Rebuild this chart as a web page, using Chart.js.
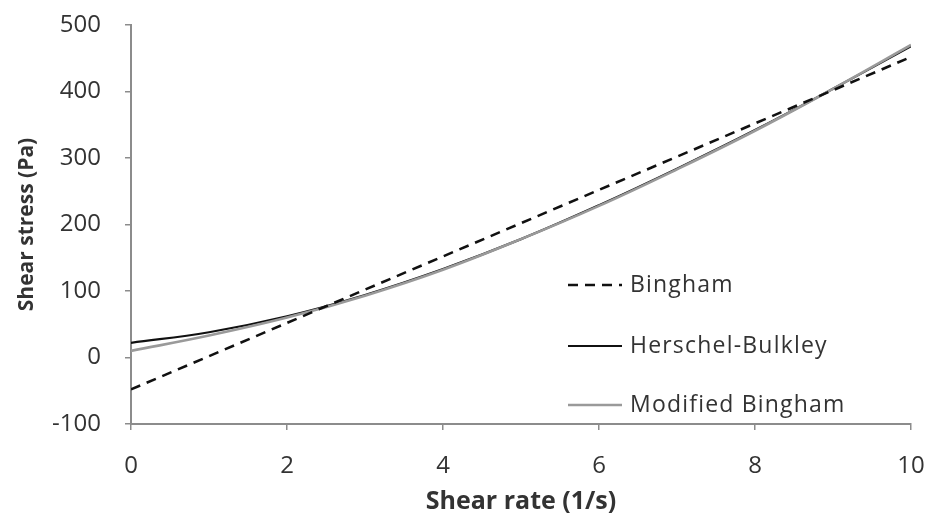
<!DOCTYPE html>
<html>
<head>
<meta charset="utf-8">
<script src="https://cdn.jsdelivr.net/npm/chart.js@4/dist/chart.umd.min.js"></script>
<style>
	html, body { margin: 0; padding: 0; background: #fff; }
	#wrap { width: 929px; height: 521px; position: relative; }
</style>
</head>
<body>
<div id="wrap"><canvas id="chart"></canvas></div>
<script>
	// values
	const shearRate = [0, 1, 2, 3, 4, 5, 6, 7, 8, 9, 10];
	const bingham = [-48, 2, 52, 102, 152, 202, 252, 302, 352, 402, 452];
	const herschelBulkley = [22, 38, 62, 94, 133, 178, 229, 284, 342, 404, 468];
	const modifiedBingham = [10, 33, 60, 93, 132, 178, 228, 283, 341, 404, 470];
	const seriesNames = ['Bingham', 'Herschel-Bulkley', 'Modified Bingham'];
	const yTicks = [-100, 0, 100, 200, 300, 400, 500];
	const xTicks = [0, 2, 4, 6, 8, 10];

	const fontFamily = '"Open Sans", Lato, "DejaVu Sans", sans-serif';
	const axisColor = '#8c8c8c';
	const textColor = '#333333';

	function points(ys) {
		return shearRate.map(function(x, i) { return { x: x, y: ys[i] }; });
	}

	// let the tick labels hang over the plot edges instead of shrinking it
	function noLabelPadding(scale) {
		scale.paddingTop = 0;
		scale.paddingBottom = 0;
		scale.paddingLeft = 0;
		scale.paddingRight = 0;
	}

	// legend drawn inside the plot, as in the reference
	const insideLegend = {
		id: 'insideLegend',
		afterDatasetsDraw(chart) {
			const ctx = chart.ctx;
			const area = chart.chartArea;
			const x0 = area.left + 437;
			const rows = [area.top + 260, area.top + 321, area.top + 380];
			ctx.save();
			ctx.font = '23px ' + fontFamily;
			ctx.letterSpacing = '1.2px';
			ctx.textBaseline = 'middle';
			ctx.fillStyle = textColor;
			seriesNames.forEach(function(name, i) {
				const ds = chart.data.datasets.find(function(d) { return d.label === name; });
				ctx.beginPath();
				ctx.setLineDash(ds.borderDash || []);
				ctx.strokeStyle = ds.borderColor;
				ctx.lineWidth = ds.borderWidth;
				ctx.moveTo(x0, rows[i]);
				ctx.lineTo(x0 + 54, rows[i]);
				ctx.stroke();
				ctx.setLineDash([]);
				ctx.fillText(name, x0 + 62, rows[i]);
			});
			ctx.restore();
		}
	};

	new Chart(document.getElementById('chart'), {
		type: 'line',
		data: {
			datasets: [
				{
					label: seriesNames[0],
					data: points(bingham),
					borderColor: '#111111',
					borderWidth: 2.6,
					borderDash: [10, 7],
					pointRadius: 0,
					order: 0
				},
				{
					label: seriesNames[2],
					data: points(modifiedBingham),
					borderColor: '#9a9a9a',
					borderWidth: 2.6,
					tension: 0.4,
					pointRadius: 0,
					order: 1
				},
				{
					label: seriesNames[1],
					data: points(herschelBulkley),
					borderColor: '#111111',
					borderWidth: 2.2,
					tension: 0.4,
					pointRadius: 0,
					order: 2
				}
			]
		},
		options: {
			responsive: true,
			maintainAspectRatio: false,
			animation: false,
			layout: {
				padding: { top: 25, right: 18, bottom: 0, left: 0 }
			},
			plugins: {
				legend: { display: false },
				tooltip: { enabled: false }
			},
			scales: {
				x: {
					type: 'linear',
					min: 0,
					max: 10,
					afterBuildTicks(scale) {
						scale.ticks = xTicks.map(function(v) { return { value: v }; });
					},
					afterFit(scale) {
						scale.height = 97;
						noLabelPadding(scale);
					},
					border: { color: axisColor, width: 2 },
					grid: { drawOnChartArea: false, color: axisColor, lineWidth: 1.5, tickLength: 6 },
					ticks: {
						color: textColor,
						padding: 22,
						maxRotation: 0,
						font: { family: fontFamily, size: 24 }
					},
					title: {
						display: true,
						text: 'Shear rate (1/s)',
						color: textColor,
						padding: { top: 0, bottom: 4 },
						font: { family: fontFamily, size: 25, weight: 'bold' }
					}
				},
				y: {
					type: 'linear',
					min: -100,
					max: 500,
					afterBuildTicks(scale) {
						scale.ticks = yTicks.map(function(v) { return { value: v }; });
					},
					afterFit(scale) {
						scale.width = 131;
						noLabelPadding(scale);
					},
					border: { color: axisColor, width: 2 },
					grid: { drawOnChartArea: false, color: axisColor, lineWidth: 1.5, tickLength: 6 },
					ticks: {
						color: textColor,
						padding: 24,
						font: { family: fontFamily, size: 24 }
					},
					title: {
						display: true,
						text: 'Shear stress (Pa)',
						color: textColor,
						padding: { top: 14, bottom: 0 },
						font: { family: fontFamily, size: 21, weight: 'bold' }
					}
				}
			}
		},
		plugins: [insideLegend]
	});
</script>
</body>
</html>
